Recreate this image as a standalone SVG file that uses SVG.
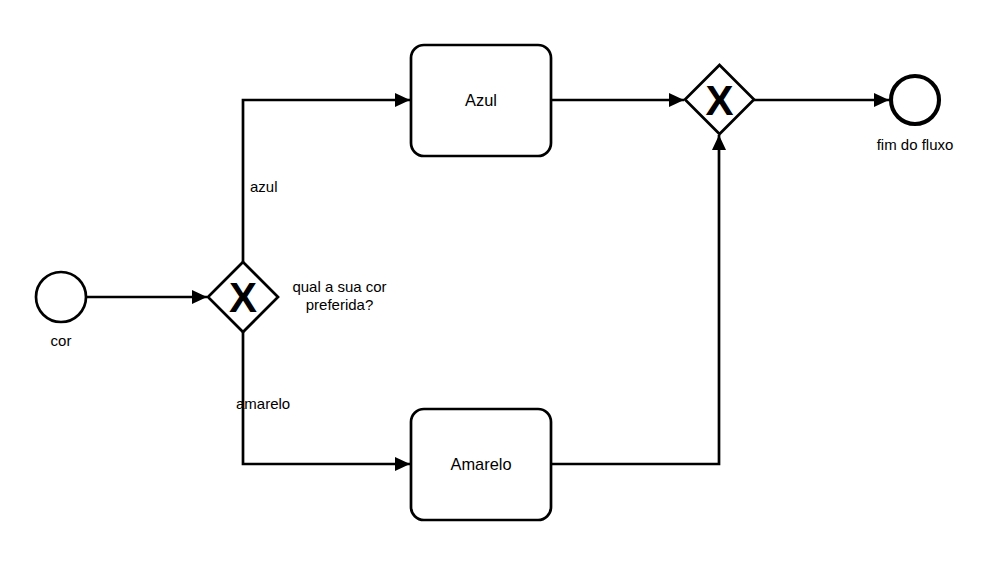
<svg xmlns="http://www.w3.org/2000/svg" width="1008" height="585" viewBox="0 0 1008 585">
<style>
.shape{fill:#fff;stroke:#000;stroke-width:2.7}
.edge{fill:none;stroke:#000;stroke-width:2.7}
.lbl{font-family:"Liberation Sans",Arial,sans-serif;font-size:15px;fill:#000}
.task{font-family:"Liberation Sans",Arial,sans-serif;font-size:16.4px;fill:#000;text-anchor:middle}
.gx{font-family:"Liberation Sans",Arial,sans-serif;font-size:42px;font-weight:bold;fill:#000;text-anchor:middle}
</style>
<defs>
<marker id="arr" markerUnits="userSpaceOnUse" markerWidth="16" markerHeight="14" refX="15" refY="7" orient="auto">
<path d="M0,0 L15,7 L0,14 Z" fill="#000"/>
</marker>
</defs>
<rect width="1008" height="585" fill="#fff"/>
<g id="connectors">
<path class="edge" d="M86,297 H207" marker-end="url(#arr)"/>
<path class="edge" d="M243,262 V100 H410" marker-end="url(#arr)"/>
<path class="edge" d="M243,332 V464 H410" marker-end="url(#arr)"/>
<path class="edge" d="M551,100 H684" marker-end="url(#arr)"/>
<path class="edge" d="M551,464 H719 V135" marker-end="url(#arr)"/>
<path class="edge" d="M754,100 H889" marker-end="url(#arr)"/>
<text class="lbl" x="250" y="192">azul</text>
<text class="lbl" x="236" y="409">amarelo</text>
</g>
<g id="start">
<circle class="shape" cx="61" cy="297" r="25"/>
<text class="lbl" x="61" y="346" text-anchor="middle">cor</text>
</g>
<g id="gateway1">
<polygon class="shape" points="243,262 278,297 243,332 208,297"/>
<text class="gx" x="243" y="312">X</text>
<text class="lbl" x="339.5" y="292" text-anchor="middle">qual a sua cor</text>
<text class="lbl" x="339.5" y="310" text-anchor="middle">preferida?</text>
</g>
<g id="task-azul">
<rect class="shape" x="411" y="45" width="140" height="111" rx="13"/>
<text class="task" x="481" y="106">Azul</text>
</g>
<g id="task-amarelo">
<rect class="shape" x="411" y="409" width="140" height="111" rx="13"/>
<text class="task" x="481" y="470">Amarelo</text>
</g>
<g id="gateway2">
<polygon class="shape" points="719.5,65 754,99.5 719.5,134 685,99.5"/>
<text class="gx" x="719.5" y="114.5">X</text>
</g>
<g id="end">
<circle cx="915" cy="100" r="24" fill="#fff" stroke="#000" stroke-width="4.1"/>
<text class="lbl" x="915" y="150" text-anchor="middle">fim do fluxo</text>
</g>
</svg>
